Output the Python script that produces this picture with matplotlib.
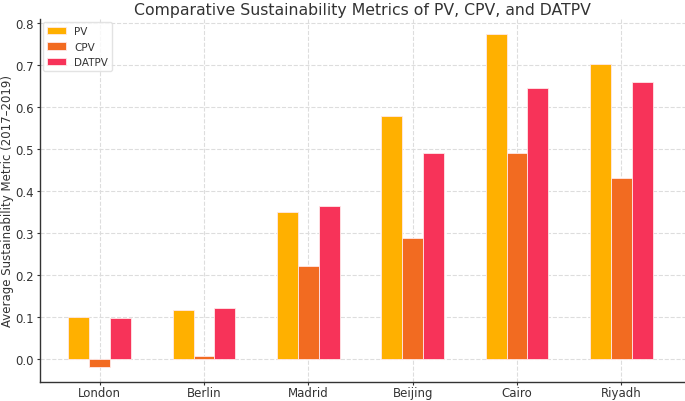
import matplotlib
matplotlib.use('Agg')
import matplotlib.pyplot as plt
import numpy as np

# --- data ---
CITIES = ['London', 'Berlin', 'Madrid', 'Beijing', 'Cairo', 'Riyadh']
PV = [0.100, 0.117, 0.350, 0.579, 0.774, 0.703]
CPV = [-0.021, 0.006, 0.222, 0.287, 0.490, 0.431]
DATPV = [0.098, 0.120, 0.364, 0.490, 0.646, 0.660]

COLORS = {'PV': '#FFB000', 'CPV': '#F26B21', 'DATPV': '#F73359'}
TEXT_COLOR = '#333333'
BAR_WIDTH = 0.2


def main():
    plt.rcParams['font.family'] = ['DejaVu Sans']
    fig = plt.figure(figsize=(6.85, 4.02), dpi=100)
    ax = fig.add_axes([0.058, 0.048, 0.942, 0.902])

    x = np.arange(len(CITIES))
    series = [('PV', PV), ('CPV', CPV), ('DATPV', DATPV)]
    for i, (name, vals) in enumerate(series):
        ax.bar(x + (i - 1) * BAR_WIDTH, vals, BAR_WIDTH, label=name,
               color=COLORS[name], edgecolor='#FFE8E8', linewidth=0.6, zorder=3)

    ax.set_xticks(x)
    ax.set_xticklabels(CITIES)
    ax.set_xlim(-0.575, 5.61)
    ax.set_ylim(-0.055, 0.81)
    ax.set_yticks(np.arange(0, 0.81, 0.1))
    ax.yaxis.set_major_formatter(plt.FormatStrFormatter('%.1f'))

    ax.grid(True, linestyle='--', color='#DDDDDD', linewidth=0.8, zorder=0)
    ax.set_axisbelow(True)
    for side in ['top', 'right']:
        ax.spines[side].set_visible(False)
    for side in ['left', 'bottom']:
        ax.spines[side].set_color('#333333')
        ax.spines[side].set_linewidth(1.0)
    ax.tick_params(colors=TEXT_COLOR, labelsize=8.5, length=2.5, pad=1.5)
    ax.tick_params(axis='x', pad=0.5)

    ax.set_ylabel('Average Sustainability Metric (2017\u20132019)', fontsize=8.5,
                  color=TEXT_COLOR)
    ax.yaxis.set_label_coords(-0.040, 0.5)
    ax.set_title('Comparative Sustainability Metrics of PV, CPV, and DATPV',
                 fontsize=11.3, color=TEXT_COLOR, pad=4)

    leg = ax.legend(loc='upper left', fontsize=7.5, frameon=True,
                    handlelength=1.8, borderpad=0.4, labelspacing=0.5,
                    borderaxespad=0.3)
    leg.get_frame().set_edgecolor('#DDDDDD')
    for t in leg.get_texts():
        t.set_color(TEXT_COLOR)

    fig.savefig('out.png', dpi=100)
    plt.close(fig)


if __name__ == "__main__":
    main()
